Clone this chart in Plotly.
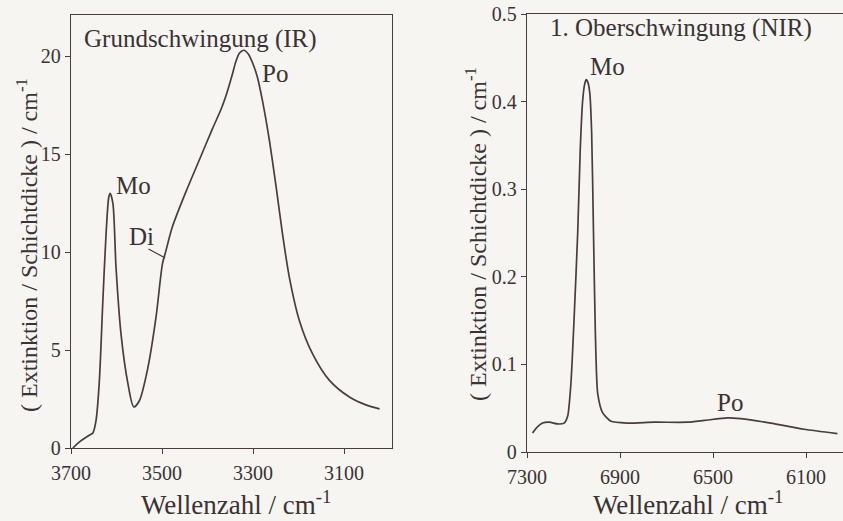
import plotly.graph_objects as go

# ---- Data: Grundschwingung (IR) ----
ir_wavenumber = [3696, 3682, 3660, 3652, 3645, 3638, 3630, 3623, 3617, 3614, 3608, 3601,
                 3590, 3575, 3562, 3550, 3531, 3513, 3499, 3491, 3477, 3447, 3418, 3389,
                 3370, 3359, 3345, 3338, 3330, 3320, 3310, 3300, 3290, 3279, 3264, 3249, 3235, 3220,
                 3198, 3169, 3132, 3088, 3052, 3022]
ir_absorbance = [0.0, 0.3, 0.65, 0.77, 1.4, 3.3, 7.5, 10.9, 12.8, 13.0, 12.5, 9.2,
                 5.8, 3.3, 2.1, 2.4, 4.1, 6.7, 9.4, 10.1, 11.3, 13.1, 14.7, 16.3,
                 17.3, 18.0, 19.1, 19.7, 20.15, 20.3, 20.1, 19.6, 18.9, 17.7, 15.7, 13.3, 10.9, 8.7,
                 6.5, 4.8, 3.45, 2.6, 2.2, 2.0]

# ---- Data: 1. Oberschwingung (NIR) ----
nir_wavenumber = [7276, 7261, 7233, 7204, 7168, 7140, 7125, 7111, 7097, 7082, 7071, 7061,
                  7052, 7045, 7038, 7030, 7022, 7014, 7006, 6996, 6975, 6939, 6868, 6753, 6610, 6538,
                  6438, 6381, 6252, 6109, 5965]
nir_absorbance = [0.0217, 0.027, 0.033, 0.034, 0.032, 0.033, 0.041, 0.079, 0.155, 0.25, 0.345, 0.40,
                  0.42, 0.425, 0.422, 0.41, 0.365, 0.25, 0.136, 0.067, 0.045, 0.035, 0.033, 0.034, 0.034, 0.036,
                  0.039, 0.038, 0.033, 0.026, 0.021]

ir_ticks = [3700, 3500, 3300, 3100]
nir_ticks = [7300, 6900, 6500, 6100]
ir_yticks = [0, 5, 10, 15, 20]
nir_yticks = [0, 0.1, 0.2, 0.3, 0.4, 0.5]
nir_yticklabels = ["0", "0.1", "0.2", "0.3", "0.4", "0.5"]

LINE = "#4a3b42"
TEXT = "#3a3234"
BG = "#f6f5f1"
FONT = "Liberation Serif"
W, H = 843, 521

fig = go.Figure()
fig.add_trace(go.Scatter(x=ir_wavenumber, y=ir_absorbance, mode="lines",
                         line=dict(color=LINE, width=1.7, shape="spline", smoothing=0.8),
                         xaxis="x", yaxis="y", showlegend=False, hoverinfo="skip"))
fig.add_trace(go.Scatter(x=nir_wavenumber, y=nir_absorbance, mode="lines",
                         line=dict(color=LINE, width=1.7, shape="spline", smoothing=0.6),
                         xaxis="x2", yaxis="y2", showlegend=False, hoverinfo="skip"))

ytitle = "( Extinktion / Schichtdicke ) / cm<sup>-1</sup>"
xtitle = "Wellenzahl / cm<sup>-1</sup>"


def ax(standoff):
    return dict(showline=True, linecolor=LINE, linewidth=1.3, ticks="outside",
                ticklen=5, tickcolor=LINE, tickwidth=1.3, showgrid=False, zeroline=False,
                automargin=False, ticklabelstandoff=standoff,
                tickfont=dict(family=FONT, size=20, color=TEXT))


fig.update_layout(
    width=W, height=H, margin=dict(l=0, r=0, t=0, b=0, autoexpand=False),
    paper_bgcolor=BG, plot_bgcolor=BG,
    font=dict(family=FONT, color=TEXT),
    xaxis=dict(domain=[71 / W, 392 / W], range=[3700, 2994.5], tickvals=ir_ticks,
               mirror=True, anchor="y", **ax(2)),
    yaxis=dict(domain=[(H - 448) / H, (H - 15) / H], range=[0, 22.1], tickvals=ir_yticks,
               mirror=True, anchor="x", **ax(0)),
    xaxis2=dict(domain=[527 / W, 1.0], range=[7300, 5941], tickvals=nir_ticks,
                mirror=True, anchor="y2", **ax(2)),
    yaxis2=dict(domain=[(H - 452) / H, (H - 14) / H], range=[0, 0.5], tickvals=nir_yticks,
                ticktext=nir_yticklabels, anchor="x2", **ax(0)),
)

# axis titles as annotations (paper coordinates)
for xc, yc in [(27, 245), (476, 234)]:
    fig.add_annotation(x=xc / W, y=1 - yc / H, xref="paper", yref="paper", text=ytitle,
                       textangle=-90, showarrow=False, xanchor="center", yanchor="middle",
                       font=dict(family=FONT, size=24, color=TEXT))
for xc in [236, 688]:
    fig.add_annotation(x=xc / W, y=0, xref="paper", yref="paper", text=xtitle,
                       showarrow=False, xanchor="center", yanchor="bottom", borderpad=0,
                       font=dict(family=FONT, size=27, color=TEXT))

annotations = [
    dict(x=3676, y=20.9, xref="x", yref="y", text="Grundschwingung (IR)", xanchor="left"),
    dict(x=3562, y=13.4, xref="x", yref="y", text="Mo"),
    dict(x=3546, y=10.8, xref="x", yref="y", text="Di"),
    dict(x=3252, y=19.1, xref="x", yref="y", text="Po"),
    dict(x=7210, y=0.484, xref="x2", yref="y2", text="1. Oberschwingung (NIR)", xanchor="left"),
    dict(x=6952, y=0.44, xref="x2", yref="y2", text="Mo"),
    dict(x=6427, y=0.056, xref="x2", yref="y2", text="Po"),
]
for a in annotations:
    fig.add_annotation(showarrow=False, font=dict(family=FONT, size=25, color=TEXT),
                       yanchor="middle", **a)

# leader line from "Di" to the shoulder
fig.add_annotation(x=3493, y=9.7, xref="x", yref="y", ax=3533, ay=10.2, axref="x", ayref="y",
                   text="", showarrow=True, arrowhead=0, arrowwidth=1.2, arrowcolor=LINE)

fig.write_html("out.html")
